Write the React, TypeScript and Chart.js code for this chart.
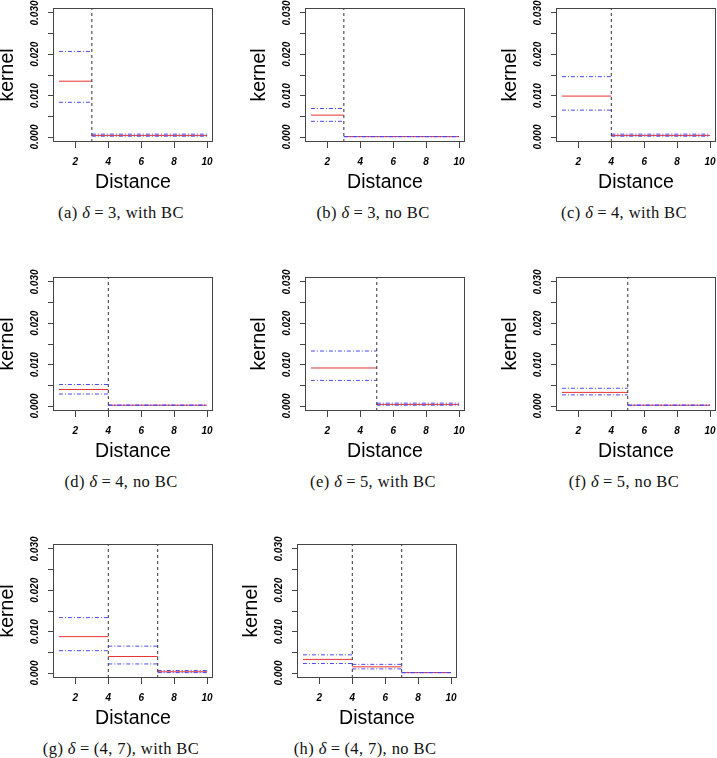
import React, { useEffect, useRef } from 'react';
import { Chart, registerables } from 'chart.js';

Chart.register(...registerables);

// ---- data ----
const panelTags = ['(a)', '(b)', '(c)', '(d)', '(e)', '(f)', '(g)', '(h)'];
const deltaLabels = ['3', '3', '4', '4', '5', '5', '(4, 7)', '(4, 7)'];
const bcLabels = ['with BC', 'no BC', 'with BC', 'no BC', 'with BC', 'no BC', 'with BC', 'no BC'];
const breakpoints = [[3], [3], [4], [4], [5], [5], [4, 7], [4, 7]];
const kernelEstimate = [
  [0.0135, 0.0004],
  [0.0053, 0.0001],
  [0.0099, 0.0004],
  [0.0040, 0.0002],
  [0.0092, 0.0004],
  [0.0033, 0.0002],
  [0.0088, 0.0040, 0.0003],
  [0.0033, 0.0015, 0.0001],
];
const upperBand = [
  [0.0207, 0.0007],
  [0.0069, 0.0001],
  [0.0146, 0.0007],
  [0.0052, 0.0002],
  [0.0133, 0.0007],
  [0.0043, 0.0002],
  [0.0134, 0.0065, 0.0006],
  [0.0044, 0.0021, 0.0001],
];
const lowerBand = [
  [0.0084, 0.0002],
  [0.0038, 0.0001],
  [0.0065, 0.0002],
  [0.0029, 0.0002],
  [0.0062, 0.0002],
  [0.0027, 0.0002],
  [0.0054, 0.0022, 0.0001],
  [0.0023, 0.0010, 0.0001],
];
const xDomain = [1, 10];
const xTicks = [2, 4, 6, 8, 10];
const yTicks = [0, 0.005, 0.01, 0.015, 0.02, 0.025, 0.03];
const yTickLabels = ['0.000', '', '0.010', '', '0.020', '', '0.030'];
const xTitle = 'Distance';
const yTitle = 'kernel';

// ---- layout ----
const boxes = [
  { left: 53, top: 8 }, { left: 305, top: 8 }, { left: 556, top: 8 },
  { left: 53, top: 277 }, { left: 305, top: 277 }, { left: 556, top: 277 },
  { left: 53, top: 544 }, { left: 297, top: 544 },
];
const BOX_W = 160;
const BOX_H = 134;
const PAD_L = 60;
const PAD_T = 12;
const PAD_R = 8;
const PAD_B = 60;
const X_MIN = 0.64;
const X_MAX = 10.36;
const Y_MIN = -0.0012;
const Y_MAX = 0.0312;

function segments(values: number[], brk: number[]) {
  const edges = [xDomain[0], ...brk, xDomain[1]];
  const pts: any[] = [];
  values.forEach((v, i) => {
    pts.push({ x: edges[i], y: v });
    pts.push({ x: edges[i + 1], y: v });
    pts.push({ x: edges[i + 1], y: null });
  });
  return pts;
}

function vlines(brk: number[]) {
  const pts: any[] = [];
  brk.forEach((b) => {
    pts.push({ x: b, y: Y_MIN });
    pts.push({ x: b, y: Y_MAX });
    pts.push({ x: b, y: null });
  });
  return pts;
}

const boxPlugin = {
  id: 'rbox',
  afterDraw(chart: any) {
    const { ctx, chartArea } = chart;
    ctx.save();
    ctx.strokeStyle = '#444';
    ctx.lineWidth = 1;
    ctx.strokeRect(Math.round(chartArea.left) + 0.5, Math.round(chartArea.top) + 0.5,
      Math.round(chartArea.right - chartArea.left) - 1, Math.round(chartArea.bottom - chartArea.top) - 1);
    // rotated y tick labels
    const ys = chart.scales.y;
    ctx.fillStyle = '#000';
    ctx.font = 'bold italic 10px "Liberation Sans", Arial, sans-serif';
    ctx.textAlign = 'center';
    ctx.textBaseline = 'middle';
    yTicks.forEach((v, i) => {
      const lab = yTickLabels[i];
      if (!lab) return;
      const py = ys.getPixelForValue(v);
      ctx.save();
      ctx.translate(chartArea.left - 18, py);
      ctx.rotate(-Math.PI / 2);
      ctx.fillText(lab, 0, 0);
      ctx.restore();
    });
    ctx.restore();
  },
};

function Panel({ idx }: { idx: number }) {
  const ref = useRef<HTMLCanvasElement>(null);
  const box = boxes[idx];
  const w = PAD_L + BOX_W + PAD_R;
  const h = PAD_T + BOX_H + PAD_B;
  useEffect(() => {
    if (!ref.current) return;
    const brk = breakpoints[idx];
    const blue = '#4a4af5';
    const red = '#e83232';
    const common = { showLine: true, pointRadius: 0, borderWidth: 1, fill: false, tension: 0 };
    const chart = new Chart(ref.current, {
      type: 'scatter',
      data: {
        datasets: [
          { ...common, data: vlines(brk), borderColor: '#333', borderDash: [3, 3] },
          { ...common, data: segments(upperBand[idx], brk), borderColor: blue, borderDash: [4, 2, 1, 2] },
          { ...common, data: segments(lowerBand[idx], brk), borderColor: blue, borderDash: [4, 2, 1, 2] },
          { ...common, data: segments(kernelEstimate[idx], brk), borderColor: red },
        ],
      },
      options: {
        animation: false,
        responsive: false,
        maintainAspectRatio: false,
        layout: { padding: { top: PAD_T, right: PAD_R, left: 0, bottom: 0 } },
        plugins: { legend: { display: false }, tooltip: { enabled: false } },
        scales: {
          x: {
            type: 'linear',
            min: X_MIN,
            max: X_MAX,
            afterBuildTicks: (s: any) => { s.ticks = xTicks.map((v) => ({ value: v })); },
            afterFit: (s: any) => { s.height = PAD_B; },
            grid: { drawOnChartArea: false, drawTicks: true, tickLength: 6, color: '#444' },
            border: { display: false },
            ticks: {
              color: '#000',
              padding: 8,
              autoSkip: false,
              maxRotation: 0,
              font: { family: '"Liberation Sans", Arial, sans-serif', size: 10, weight: 'bold', style: 'italic' },
              callback: (v: any) => String(v),
            },
            title: {
              display: true,
              text: xTitle,
              color: '#000',
              font: { family: '"Liberation Sans", Arial, sans-serif', size: 19.5 },
              padding: { top: 0, bottom: 7.4 },
            },
          },
          y: {
            type: 'linear',
            min: Y_MIN,
            max: Y_MAX,
            afterBuildTicks: (s: any) => { s.ticks = yTicks.map((v) => ({ value: v })); },
            afterFit: (s: any) => { s.width = PAD_L; },
            grid: { drawOnChartArea: false, drawTicks: true, tickLength: 5, color: '#444' },
            border: { display: false },
            ticks: { display: false },
            title: {
              display: true,
              text: yTitle,
              color: '#000',
              font: { family: '"Liberation Sans", Arial, sans-serif', size: 19.5 },
              padding: { top: 3.4, bottom: 0 },
            },
          },
        },
      } as any,
      plugins: [boxPlugin],
    });
    return () => chart.destroy();
  }, [idx]);
  return (
    <>
      <canvas
        ref={ref}
        width={w}
        height={h}
        style={{ position: 'absolute', left: box.left - PAD_L, top: box.top - PAD_T, width: w, height: h }}
      />
      <div
        style={{
          position: 'absolute',
          left: box.left + BOX_W / 2 - 12,
          top: box.top + 205,
          transform: 'translate(-50%, -50%)',
          whiteSpace: 'nowrap',
          fontFamily: '"Liberation Serif", "Times New Roman", serif',
          fontSize: 16.5,
          letterSpacing: 0.4,
          color: '#111',
        }}
      >
        {panelTags[idx]} <i>δ</i>
        <span style={{ margin: '0 4px' }}>=</span>
        {deltaLabels[idx]}, {bcLabels[idx]}
      </div>
    </>
  );
}

export default function App() {
  return (
    <div
      style={{
        position: 'absolute',
        left: 0,
        top: 0,
        width: 717,
        height: 758,
        overflow: 'hidden',
        background: '#fff',
      }}
    >
      {boxes.map((_, i) => (
        <Panel key={i} idx={i} />
      ))}
    </div>
  );
}
